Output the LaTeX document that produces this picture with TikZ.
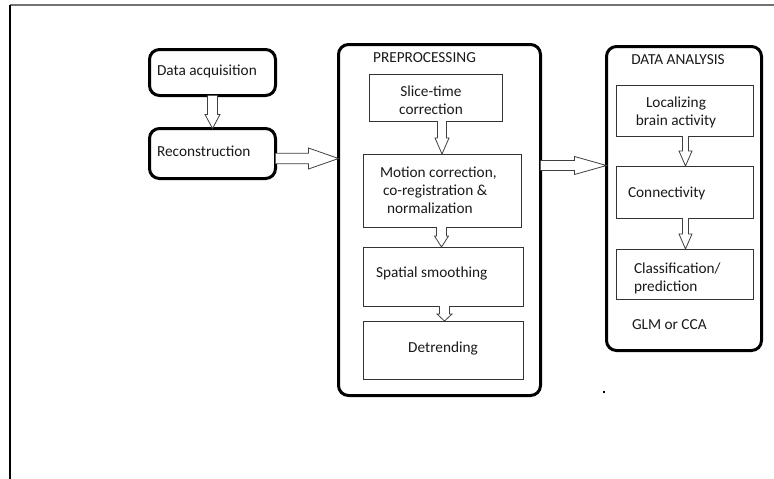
\documentclass[tikz,border=0pt]{standalone}
\usepackage{fontspec}
\setmainfont{Carlito}
\usetikzlibrary{calc}

\tikzset{
  stage/.style={draw=black, line width=3pt, rounded corners=10pt, inner sep=0pt, outer sep=0pt},
  stepbox/.style={draw=black!80, line width=0.9pt, inner sep=0pt, outer sep=0pt},
  lbl/.style={inner sep=0pt, outer sep=0pt, text=black!90, font=\fontsize{15.3}{18}\selectfont},
  blockline/.style={draw=black!75, line width=0.8pt, fill=white, line join=miter},
}

% hollow block arrow pointing down: from node #1 (south) to node #2 (north)
% #3 = x position, #4 = half shaft width, #5 = half head width, #6 = head length
\newcommand\blockdownarrow[6]{%
  \path[blockline] let \p1=(#1.south), \p2=(#2.north), \p3=(#3,0) in
    (\x3-#4pt,\y1) -- (\x3-#4pt,\y2+#6pt) -- (\x3-#5pt,\y2+#6pt) -- (\x3,\y2)
    -- (\x3+#5pt,\y2+#6pt) -- (\x3+#4pt,\y2+#6pt) -- (\x3+#4pt,\y1);
}
% hollow block arrow pointing right: from node #1 (east) to node #2 (west)
% #3 = y position, #4 = half shaft width, #5 = half head width, #6 = head length
\newcommand\blockrightarrow[6]{%
  \path[blockline] let \p1=(#1.east), \p2=(#2.west), \p3=(0,#3) in
    (\x1,\y3+#4pt) -- (\x2-#6pt,\y3+#4pt) -- (\x2-#6pt,\y3+#5pt) -- (\x2,\y3)
    -- (\x2-#6pt,\y3-#5pt) -- (\x2-#6pt,\y3-#4pt) -- (\x1,\y3-#4pt);
}

\begin{document}
\begin{tikzpicture}[x=1pt, y=-1pt]
\useasboundingbox (0,0) rectangle (774,479);

% page frame
\coordinate (ftl) at (10,5);
\coordinate (ftr) at (774,5);
\coordinate (fbl) at (10,479);
\draw[black!55, line width=1.4pt] (ftl) -- (ftr);
\draw[black, line width=2pt] (ftl) -- (fbl);

% acquisition stages
\node[stage, minimum width=126pt, minimum height=46pt] (acq) at (212.5,72.5) {};
\node[lbl, anchor=west] (acqt) at (157,71) {Data acquisition};
\node[stage, minimum width=126pt, minimum height=50pt] (recon) at (212.5,153.5) {};
\node[lbl, anchor=west] (recont) at (157,151) {Reconstruction};

% preprocessing
\node[stage, minimum width=202pt, minimum height=351pt] (pre) at (439.5,220) {};
\node[lbl] (pret) at (424.5,58) {PREPROCESSING};
\node[stepbox, minimum width=133pt, minimum height=47pt] (slice) at (435.5,97.5) {};
\node[lbl, align=center] (slicet) at (431,100) {Slice-time\\correction};
\node[stepbox, minimum width=158pt, minimum height=73pt] (motion) at (442,190.5) {};
\node[lbl, align=left, anchor=west] (motiont) at (380,190.5)
  {Motion correction,\\\hspace*{3pt}co-registration \&\\\hspace*{7pt}normalization};
\node[stepbox, minimum width=160pt, minimum height=59pt] (spatial) at (443,276.5) {};
\node[lbl, anchor=west] (spatialt) at (376,273.5) {Spatial smoothing};
\node[stepbox, minimum width=160pt, minimum height=58pt] (detrend) at (443,350) {};
\node[lbl] (detrendt) at (443,348.5) {Detrending};

% data analysis
\node[stage, minimum width=155pt, minimum height=304pt] (da) at (684,198.5) {};
\node[lbl] (dat) at (678,60) {DATA ANALYSIS};
\node[stepbox, minimum width=137pt, minimum height=51pt] (loc) at (684.5,110.5) {};
\node[lbl, align=center] (loct) at (676,112.5) {Localizing\\brain activity};
\node[stepbox, minimum width=137pt, minimum height=52pt] (conn) at (684.5,192) {};
\node[lbl, anchor=west] (connt) at (628,193.5) {Connectivity};
\node[stepbox, minimum width=137pt, minimum height=50pt] (class) at (684.5,274) {};
\node[lbl, align=left, anchor=west] (classt) at (634,278.5) {Classification/\\prediction};
\node[lbl, anchor=west] (glm) at (632,324.5) {GLM or CCA};

% stray mark
\fill[black] (603,391) rectangle (605,393);

% block arrows
\blockdownarrow{acq}{recon}{212.5}{5}{7.5}{14}
\blockdownarrow{slice}{motion}{442}{4.5}{7}{16}
\blockdownarrow{motion}{spatial}{441.5}{5}{7}{11}
\blockdownarrow{spatial}{detrend}{444.5}{5}{7.5}{7}
\blockdownarrow{loc}{conn}{685.5}{3}{6.5}{15}
\blockdownarrow{conn}{class}{685.5}{3}{6.5}{15}
\blockrightarrow{recon}{pre}{158.5}{5.3}{10.5}{30}
\blockrightarrow{pre}{da}{165.5}{5}{9}{32}
\end{tikzpicture}
\end{document}
